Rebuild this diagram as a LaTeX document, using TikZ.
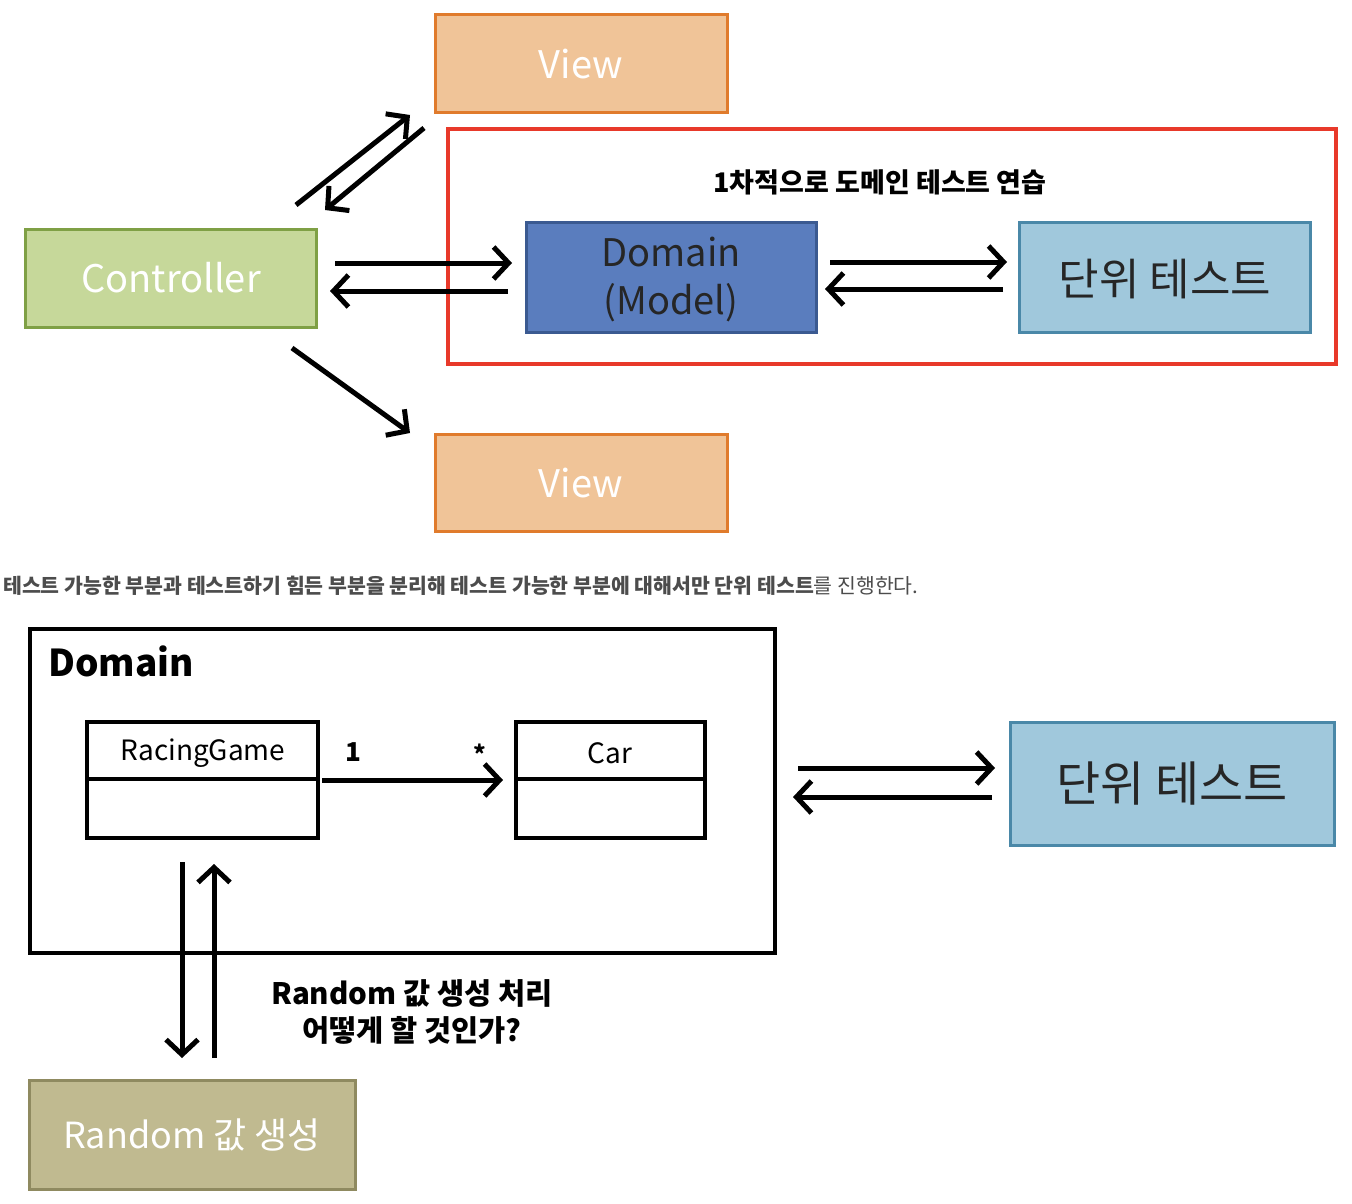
\documentclass[tikz,border=0pt]{standalone}
\usepackage{fontspec}
\setmainfont{Noto Sans CJK KR}
\usetikzlibrary{arrows.meta}
\definecolor{vfill}{HTML}{F0C498}\definecolor{vline}{HTML}{E07B2C}
\definecolor{cfill}{HTML}{C6D89A}\definecolor{cline}{HTML}{7FA045}
\definecolor{dfill}{HTML}{5A7DBE}\definecolor{dline}{HTML}{3B5A91}
\definecolor{ufill}{HTML}{A0C8DC}\definecolor{uline}{HTML}{4A88A8}
\definecolor{rfill}{HTML}{C0BA90}\definecolor{rline}{HTML}{8F8A60}
\definecolor{red1}{HTML}{E8392A}
\begin{document}
\begin{tikzpicture}[x=1pt,y=-1pt,
  box/.style={draw,line width=3pt,inner sep=0pt},
  arr/.style={line width=5pt,-{Straight Barb[length=15pt,width=32pt,line width=5pt]}},
  big/.style={font=\fontsize{38}{44}\selectfont}]
\useasboundingbox (0,0) rectangle (1352,1204);
\fill[white] (0,0) rectangle (1352,1204);
% top part
\draw[box,fill=vfill,draw=vline] (435,15) rectangle (727,113);
\node[big,white] (v1) at (581,64) {View};
\draw[box,fill=vfill,draw=vline] (435,434) rectangle (727,531);
\node[big,white] (v2) at (581,483) {View};
\draw[box,fill=cfill,draw=cline] (25,229) rectangle (316,327);
\node[big,white] (c) at (171,278) {Controller};
\draw[red1,line width=3.5pt] (448,129) rectangle (1336,364);
\node[font=\bfseries\fontsize{27}{30}\selectfont] (lab) at (880,182) {1차적으로 도메인 테스트 연습};
\draw[box,fill=dfill,draw=dline] (526,222) rectangle (816,332);
\node[big,align=center,text=black!85,font=\fontsize{38}{48}\selectfont] (d) at (671,279) {Domain\\(Model)};
\draw[box,fill=ufill,draw=uline] (1019,222) rectangle (1310,332);
\node[text=black!85,font=\fontsize{44}{48}\selectfont] (u) at (1165,279) {단위 테스트};
\coordinate (a1) at (335,263); \coordinate (a2) at (512,263);
\coordinate (a3) at (508,291); \coordinate (a4) at (330,291);
\draw[arr] (a1) -- (a2); \draw[arr] (a3) -- (a4);
\coordinate (b1) at (830,262); \coordinate (b2) at (1007,262);
\coordinate (b3) at (1003,289); \coordinate (b4) at (825,289);
\draw[arr] (b1) -- (b2); \draw[arr] (b3) -- (b4);
\coordinate (e1) at (296,205); \coordinate (e2) at (410,115);
\coordinate (e3) at (424,128); \coordinate (e4) at (325,210);
\draw[arr] (e1) -- (e2); \draw[arr] (e3) -- (e4);
\coordinate (f1) at (292,348); \coordinate (f2) at (410,433);
\draw[arr] (f1) -- (f2);
% caption
\node[anchor=west,text=black!70,font=\fontsize{20.5}{22}\selectfont,inner sep=0pt] (cap) at (3,586) {\textbf{테스트 가능한 부분과 테스트하기 힘든 부분을 분리해 테스트 가능한 부분에 대해서만 단위 테스트}를 진행한다.};
% bottom
\draw[line width=4pt] (30,629) rectangle (775,953);
\node[anchor=west,font=\bfseries\fontsize{37}{40}\selectfont,inner sep=0pt] (dom) at (48,661) {Domain};
\draw[line width=3.5pt] (87,722) rectangle (318,838); \draw[line width=3.5pt] (87,779) -- (318,779);
\node[font=\fontsize{28}{30}\selectfont] (rg) at (203,753) {RacingGame};
\draw[line width=3.5pt] (516,722) rectangle (705,838); \draw[line width=3.5pt] (516,779) -- (705,779);
\node[font=\fontsize{28}{30}\selectfont] (car) at (610,753) {Car};
\coordinate (g1) at (322,780); \coordinate (g2) at (503,780);
\draw[arr] (g1) -- (g2);
\node[font=\bfseries\fontsize{26}{30}\selectfont] (one) at (353,752) {1};
\node[font=\bfseries\fontsize{24}{30}\selectfont] (st) at (480,754) {*};
\draw[box,fill=ufill,draw=uline] (1010,722) rectangle (1334,845);
\node[text=black!85,font=\fontsize{48}{52}\selectfont] (u2) at (1172,784) {단위 테스트};
\coordinate (h1) at (798,768); \coordinate (h2) at (995,768);
\coordinate (h3) at (992,797); \coordinate (h4) at (793,797);
\draw[arr] (h1) -- (h2); \draw[arr] (h3) -- (h4);
\coordinate (k1) at (182,862); \coordinate (k2) at (182,1058);
\coordinate (k3) at (214,1058); \coordinate (k4) at (214,864);
\draw[arr] (k1) -- (k2); \draw[arr] (k3) -- (k4);
\node[align=center,font=\bfseries\fontsize{29.5}{37}\selectfont] (q) at (412,1012) {Random 값 생성 처리\\어떻게 할 것인가?};
\draw[box,fill=rfill,draw=rline] (29,1080) rectangle (355,1189);
\node[white,font=\fontsize{36}{40}\selectfont] (rnd) at (192,1135) {Random 값 생성};
\end{tikzpicture}
\end{document}
